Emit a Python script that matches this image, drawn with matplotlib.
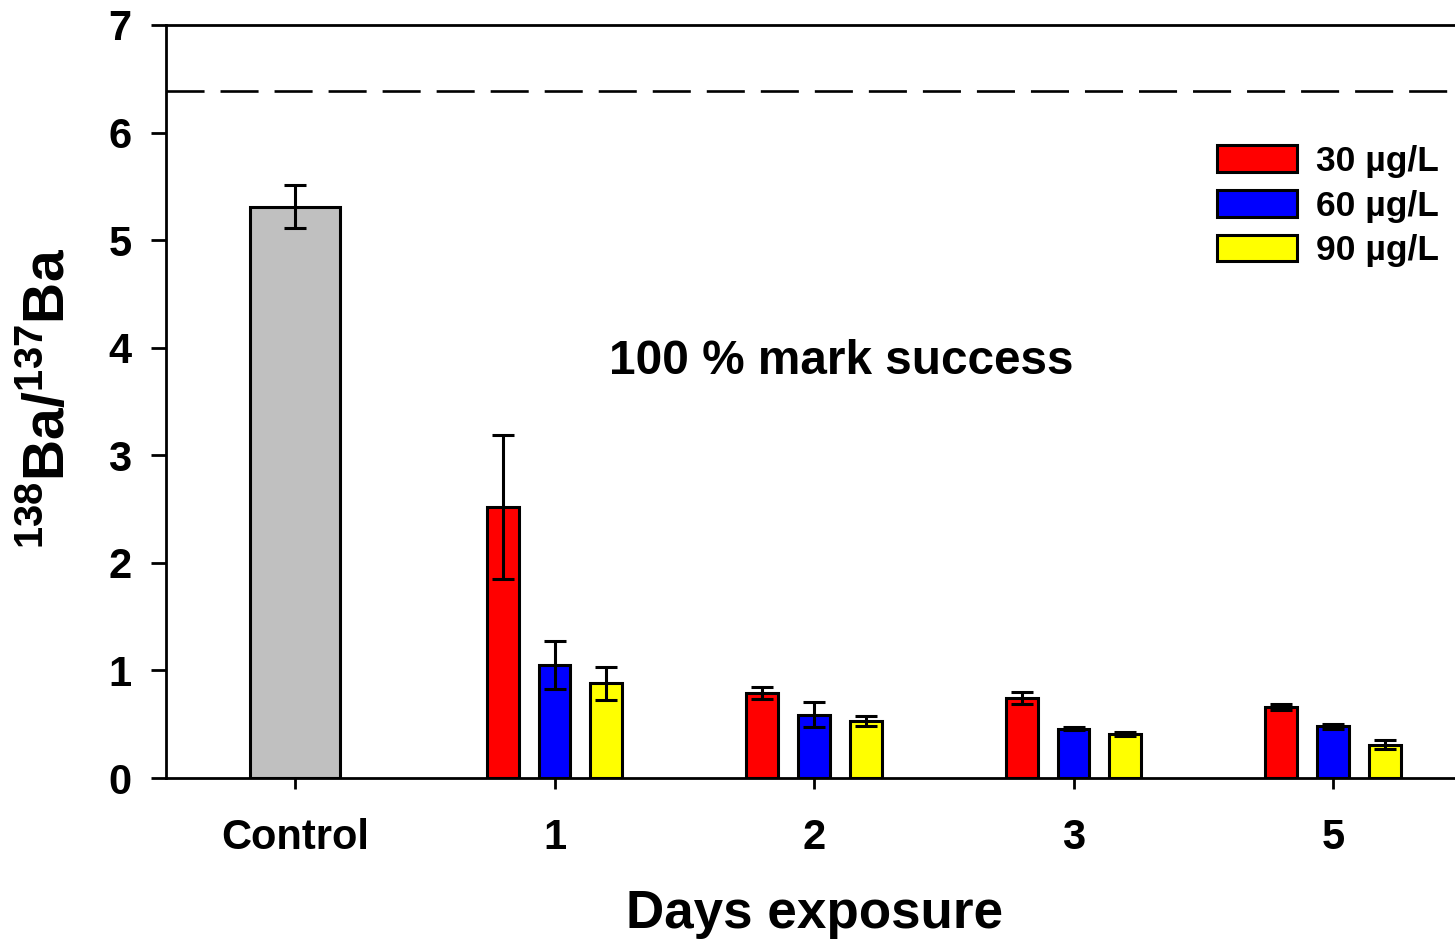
import matplotlib
matplotlib.use("Agg")
import matplotlib.pyplot as plt
import numpy as np

# ---- data ----
categories = ['Control', '1', '2', '3', '5']
control_mean = [5.31]
control_err = [0.20]
conc_labels = ['30 µg/L', '60 µg/L', '90 µg/L']
mean_30 = [2.52, 0.79, 0.74, 0.66]
err_30 = [0.67, 0.06, 0.055, 0.025]
mean_60 = [1.05, 0.59, 0.46, 0.48]
err_60 = [0.225, 0.115, 0.01, 0.02]
mean_90 = [0.88, 0.53, 0.41, 0.31]
err_90 = [0.155, 0.05, 0.015, 0.04]
threshold = 6.39
annotation = '100 % mark success'

plt.rcParams['font.family'] = ['Liberation Sans', 'DejaVu Sans']
plt.rcParams['font.weight'] = 'bold'
plt.rcParams['mathtext.fontset'] = 'custom'
plt.rcParams['mathtext.rm'] = 'Liberation Sans:bold'
plt.rcParams['mathtext.it'] = 'Liberation Sans:bold'
plt.rcParams['mathtext.bf'] = 'Liberation Sans:bold'
plt.rcParams['lines.scale_dashes'] = False

W, H = 1455, 943
fig = plt.figure(figsize=(W / 100, H / 100), dpi=100)
left_px, right_px, top_px, bot_px = 166, 1455, 25, 778
ax = fig.add_axes([left_px / W, 1 - bot_px / H, (right_px - left_px) / W, (bot_px - top_px) / H])

lw = 2.2
x = np.arange(len(categories))
ecfg = dict(elinewidth=lw, capthick=lw, ecolor='black', capsize=8)

ax.bar(x[:1], control_mean, width=0.35, color='#C0C0C0', edgecolor='black',
       linewidth=lw, yerr=control_err, error_kw=ecfg, zorder=3)

day_x = x[1:]
offset = 0.2
bw = 0.123
colors = ['#FF0000', '#0000FF', '#FFFF00']
series = [(mean_30, err_30), (mean_60, err_60), (mean_90, err_90)]
for i, ((m, e), c, lab) in enumerate(zip(series, colors, conc_labels)):
    ax.bar(day_x + (i - 1) * offset, m, width=bw, color=c, edgecolor='black',
           linewidth=lw, yerr=e, error_kw=ecfg, label=lab, zorder=3)

ax.axhline(threshold, color='black', linewidth=1.9, dashes=(27.4, 11.5), zorder=2)

ax.set_ylim(0, 7)
ax.set_xlim(-(295 - left_px) / 259.5, 4 + (right_px - 1333) / 259.5)
ax.set_yticks(range(0, 8))
ax.set_xticks(x)
ax.set_xticklabels(categories)

for s in ['left', 'bottom', 'top']:
    ax.spines[s].set_linewidth(2.0)
ax.spines['right'].set_visible(False)

ax.tick_params(axis='y', direction='out', length=10.8, width=2.0, pad=14, labelsize=30)
ax.tick_params(axis='x', direction='out', length=8, width=2.0, pad=21, labelsize=30)
for t in ax.get_xticklabels() + ax.get_yticklabels():
    t.set_fontweight('bold')

ax.set_xlabel('Days exposure', fontsize=38.2, fontweight='bold')
ax.xaxis.set_label_coords((815 - left_px) / (right_px - left_px), (bot_px - 889) / (bot_px - top_px))

fig.text(50 / W, 1 - 398 / H, r'$^{138}\mathrm{Ba}/^{137}\mathrm{Ba}$', rotation=90,
         ha='center', va='center', fontsize=41)

ax.text(2.104, 3.76, annotation, ha='center', va='baseline', fontsize=34.4, fontweight='bold')

leg = ax.legend(loc='upper left', bbox_to_anchor=(1217 / W, 1 - 145 / H),
                bbox_transform=fig.transFigure, frameon=False, fontsize=25.5,
                handlelength=2.26, handleheight=0.79, handletextpad=0.53,
                labelspacing=0.33, borderpad=0, borderaxespad=0)
for t in leg.get_texts():
    t.set_fontweight('bold')

fig.savefig('out.png', dpi=100)
